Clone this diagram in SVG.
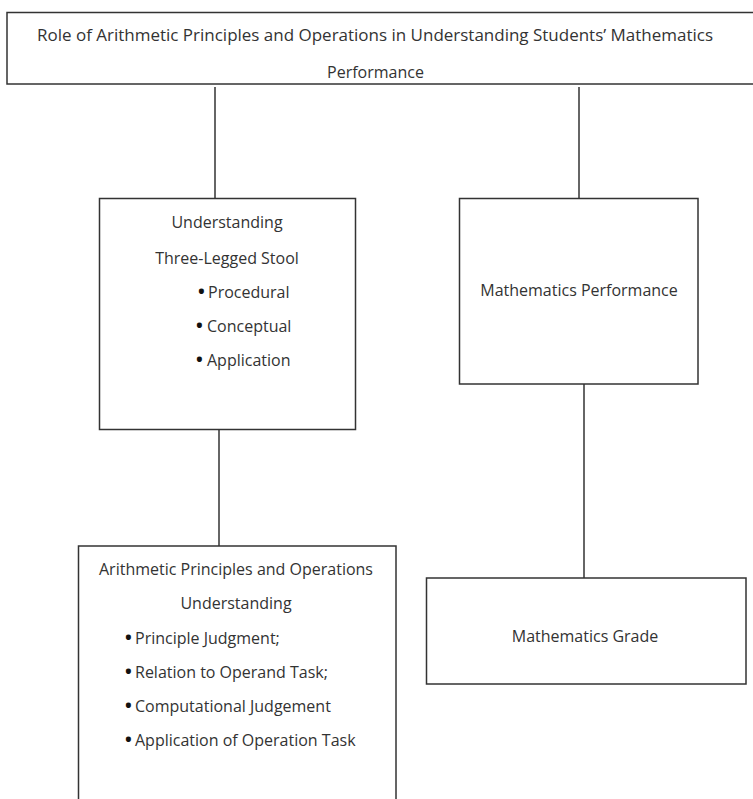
<svg xmlns="http://www.w3.org/2000/svg" width="753" height="799" viewBox="0 0 753 799">
<style>
.box{fill:#fff;stroke:#333;stroke-width:1.5}
.conn line{stroke:#333;stroke-width:1.5}
text{font-family:"Open Sans","Noto Sans","DejaVu Sans",sans-serif;font-size:16px;fill:#333}
.c{text-anchor:middle}
.b{font-weight:bold;font-size:18px;fill:#111}
</style>
<rect width="753" height="799" fill="#fff"/>
<g id="connectors" class="conn">
<line x1="215" y1="87" x2="215" y2="198"/>
<line x1="579" y1="87" x2="579" y2="198"/>
<line x1="219" y1="430" x2="219" y2="546"/>
<line x1="584" y1="384" x2="584" y2="578"/>
</g>
<g id="root">
<rect class="box" x="7" y="12.5" width="750" height="71.5"/>
<text class="c" x="375" y="41" textLength="676" lengthAdjust="spacingAndGlyphs">Role of Arithmetic Principles and Operations in Understanding Students’ Mathematics</text>
<text class="c" x="375.5" y="78">Performance</text>
</g>
<g id="understanding">
<rect class="box" x="99.5" y="198.5" width="256" height="231"/>
<text class="c" x="227" y="228">Understanding</text>
<text class="c" x="227" y="264">Three-Legged Stool</text>
<text x="198" y="298"><tspan class="b">•</tspan><tspan x="208">Procedural</tspan></text>
<text x="196" y="332"><tspan class="b">•</tspan><tspan x="207">Conceptual</tspan></text>
<text x="196" y="366"><tspan class="b">•</tspan><tspan x="207">Application</tspan></text>
</g>
<g id="performance">
<rect class="box" x="459.5" y="198.5" width="238.5" height="185.5"/>
<text class="c" x="579" y="296">Mathematics Performance</text>
</g>
<g id="arithmetic">
<rect class="box" x="78.5" y="546" width="317.5" height="270"/>
<text class="c" x="236" y="575">Arithmetic Principles and Operations</text>
<text class="c" x="236" y="609">Understanding</text>
<text x="125" y="644"><tspan class="b">•</tspan><tspan x="135">Principle Judgment;</tspan></text>
<text x="125" y="678"><tspan class="b">•</tspan><tspan x="135">Relation to Operand Task;</tspan></text>
<text x="125" y="712"><tspan class="b">•</tspan><tspan x="135">Computational Judgement</tspan></text>
<text x="125" y="746"><tspan class="b">•</tspan><tspan x="135">Application of Operation Task</tspan></text>
</g>
<g id="grade">
<rect class="box" x="426.5" y="578" width="319.5" height="106"/>
<text class="c" x="585" y="642">Mathematics Grade</text>
</g>
</svg>
